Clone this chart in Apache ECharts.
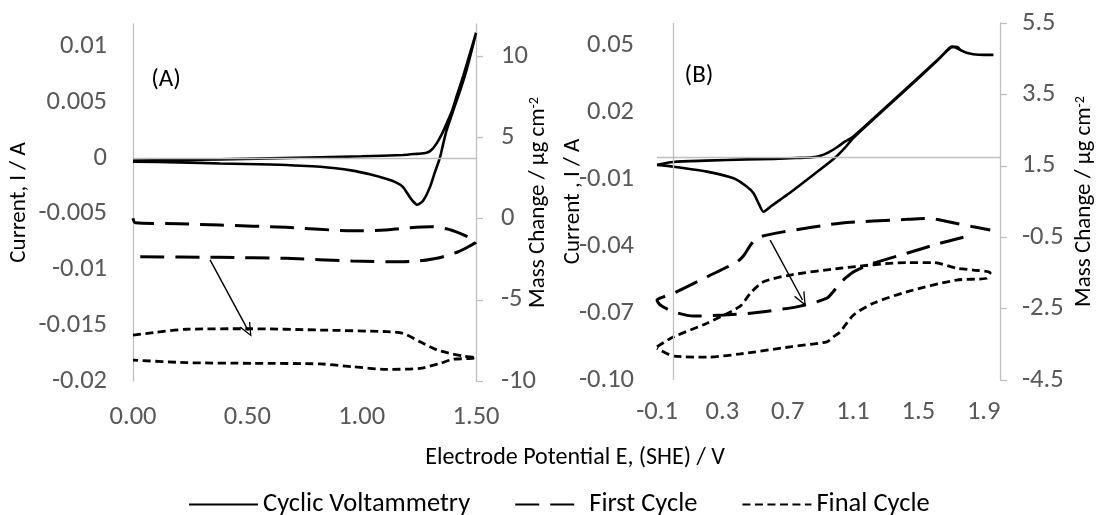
<!DOCTYPE html>
<html>
<head>
<meta charset="utf-8">
<script src="https://cdn.jsdelivr.net/npm/echarts@6/dist/echarts.min.js"></script>
<style>
  html, body { margin: 0; padding: 0; background: #fff; }
  #chart { width: 1097px; height: 515px; }
</style>
</head>
<body>
<div id="chart"></div>
<script>
// ---- panel (A): potential / V vs current / A and mass change / µg cm-2
const cvA = [
  [0.00, -0.00025], [0.38, -0.00013], [0.82, 0.00005], [1.00, 0.00014], [1.18, 0.00026],
  [1.24, 0.00036], [1.284, 0.00045], [1.305, 0.0007], [1.328, 0.0013], [1.35, 0.0021],
  [1.372, 0.0031], [1.395, 0.0042], [1.415, 0.0055], [1.445, 0.0074], [1.474, 0.0094], [1.50, 0.0112],
  [1.487, 0.0101], [1.459, 0.0079], [1.435, 0.0063], [1.408, 0.0047], [1.39, 0.0036], [1.372, 0.0025],
  [1.357, 0.0013], [1.342, 0.0000], [1.32, -0.0013], [1.299, -0.0026], [1.27, -0.0038], [1.243, -0.0042],
  [1.225, -0.0039], [1.21, -0.0035], [1.18, -0.0026], [1.15, -0.0022], [1.11, -0.0019], [1.04, -0.0015],
  [0.96, -0.00114], [0.82, -0.0008], [0.60, -0.0006], [0.38, -0.0005], [0.20, -0.0004], [0.00, -0.00034]
];
const firstA = [
  [0.00, 0.03], [0.01, -0.25], [0.20, -0.31], [0.38, -0.39], [0.67, -0.53], [0.96, -0.74], [1.10, -0.70],
  [1.18, -0.59], [1.30, -0.49], [1.37, -0.62], [1.43, -0.90], [1.47, -1.15], [1.50, -1.42],
  [1.47, -1.70], [1.42, -2.05], [1.34, -2.40], [1.25, -2.60], [1.18, -2.65], [0.96, -2.61],
  [0.67, -2.44], [0.38, -2.38], [0.00, -2.34]
];
const finalA = [
  [0.00, -7.17], [0.09, -7.02], [0.235, -6.81], [0.51, -6.78], [0.82, -6.86], [1.11, -6.96],
  [1.18, -7.06], [1.255, -7.58], [1.33, -8.09], [1.40, -8.34], [1.45, -8.48], [1.50, -8.58],
  [1.47, -8.62], [1.40, -8.66], [1.343, -8.91], [1.255, -9.22], [1.11, -9.28], [0.96, -9.12],
  [0.82, -8.95], [0.53, -8.91], [0.235, -8.87], [0.00, -8.71]
];
const arrowA = [[0.337, -2.54], [0.504, -6.9]];

// ---- panel (B)
const cvB = [
  [-0.10, -0.0035], [0.00, -0.0023], [0.20, -0.0017], [0.45, -0.0011], [0.613, -0.0009], [0.75, -0.0005],
  [0.85, -0.0002], [0.90, 0.0005], [0.95, 0.0020], [1.00, 0.0042], [1.05, 0.0068], [1.10, 0.0090],
  [1.225, 0.0172], [1.43, 0.0309], [1.633, 0.0446], [1.69, 0.0488], [1.705, 0.0494], [1.74, 0.0492],
  [1.76, 0.0478], [1.80, 0.0466], [1.87, 0.0458], [1.96, 0.0457],
  [1.87, 0.0458], [1.80, 0.0466], [1.76, 0.0478], [1.72, 0.0492], [1.70, 0.0490], [1.60, 0.0420],
  [1.43, 0.0305], [1.225, 0.0168], [1.10, 0.0083], [1.05, 0.0040], [0.99, -0.0004], [0.858, -0.0080],
  [0.716, -0.0160], [0.60, -0.0220], [0.552, -0.0246], [0.522, -0.0208], [0.491, -0.0163],
  [0.451, -0.0134], [0.369, -0.0096], [0.206, -0.0066], [0.002, -0.0044], [-0.10, -0.0036]
];
const firstB = [
  [1.776, -0.50], [1.633, -0.67], [1.429, -0.95], [1.225, -1.23], [1.103, -1.47], [1.06, -1.62],
  [1.021, -1.79], [0.98, -2.02], [0.94, -2.21], [0.777, -2.43], [0.512, -2.61], [0.308, -2.68],
  [0.124, -2.71], [0.002, -2.59], [-0.08, -2.40], [-0.10, -2.26], [-0.06, -2.17], [0.002, -2.07],
  [0.206, -1.61], [0.39, -1.19], [0.43, -1.02], [0.481, -0.67], [0.532, -0.49], [0.675, -0.35],
  [1.021, -0.11], [1.429, 0.00], [1.572, 0.03], [1.633, -0.02], [1.837, -0.21], [1.94, -0.30]
];
const finalB = [
  [-0.10, -3.57], [0.002, -3.29], [0.206, -2.91], [0.41, -2.43], [0.471, -2.07], [0.552, -1.75],
  [0.716, -1.56], [1.021, -1.37], [1.429, -1.21], [1.592, -1.21], [1.735, -1.37], [1.837, -1.42],
  [1.94, -1.49], [1.918, -1.65], [1.735, -1.70], [1.429, -2.03], [1.225, -2.35], [1.103, -2.68],
  [1.021, -3.15], [0.98, -3.29], [0.94, -3.43], [0.716, -3.57], [0.41, -3.77], [0.206, -3.86],
  [0.002, -3.83], [-0.10, -3.61]
];
const arrowB = [[0.593, -0.58], [0.791, -2.26]];

// ---- tick labels
const xTicksA = [0, 0.5, 1.0, 1.5];
const currentTicksA = [-0.02, -0.015, -0.01, -0.005, 0, 0.005, 0.01];
const massTicksA = [-10, -5, 0, 5, 10];
const xTicksB = [-0.1, 0.3, 0.7, 1.1, 1.5, 1.9];
const currentTicksB = [-0.10, -0.07, -0.04, -0.01, 0.02, 0.05];
const massTicksB = [-4.5, -2.5, -0.5, 1.5, 3.5, 5.5];

const FONT = 'Carlito, "Open Sans", sans-serif';
const AXIS_GRAY = '#bfbfbf';
const LABEL_GRAY = '#595959';

const labelStyle = (values, fmt, margin) => ({
  customValues: values,
  formatter: fmt,
  margin,
  fontSize: 26.5,
  fontFamily: FONT,
  color: LABEL_GRAY
});
const nameStyle = {
  fontSize: 23,
  fontFamily: FONT,
  color: '#000',
  rich: { sup: { fontSize: 14, fontFamily: FONT, color: '#000', verticalAlign: 'top', lineHeight: 15 } }
};

const cvLine = { color: '#000', width: 2.6, type: 'solid' };
const firstLine = { color: '#000', width: 3, type: [24, 11] };
const finalLine = { color: '#000', width: 2.8, type: [8, 4.5] };

// open arrowhead (tip at the top of the symbol box)
const OPEN_ARROW = 'path://M5,0 L10,10 L8.8,10 L5,2.4 L1.2,10 L0,10 Z';

const zeroLine = (data) => ({
  silent: true,
  symbol: 'none',
  label: { show: false },
  lineStyle: { color: AXIS_GRAY, width: 1.3, type: 'solid' },
  emphasis: { disabled: true },
  data
});
const arrowLine = (pts) => ({
  silent: true,
  symbol: ['none', OPEN_ARROW],
  symbolSize: [12, 14],
  itemStyle: { color: '#000' },
  label: { show: false },
  lineStyle: { color: '#000', width: 1.4, type: 'solid' },
  emphasis: { disabled: true },
  data: [[{ coord: pts[0] }, { coord: pts[1] }]]
});

const curve = (name, xi, yi, data, lineStyle, extra) => Object.assign({
  name, type: 'line', xAxisIndex: xi, yAxisIndex: yi, data,
  symbol: 'none', showSymbol: false, smooth: 0.25,
  lineStyle, itemStyle: { color: '#000' }
}, extra || {});

const axisName = (name, gap) => ({
  name, nameLocation: 'middle', nameRotate: 90, nameGap: gap,
  nameMoveOverlap: false, nameTextStyle: nameStyle
});

const chart = echarts.init(document.getElementById('chart'));
chart.setOption({
  animation: false,
  backgroundColor: '#fff',
  grid: [
    { left: 133, top: 24, width: 343, height: 357 },
    { left: 657, top: 23, width: 345, height: 357 }
  ],
  xAxis: [
    {
      gridIndex: 0, type: 'value', min: 0, max: 1.5,
      axisLine: { show: false }, axisTick: { show: false }, splitLine: { show: false },
      axisLabel: labelStyle(xTicksA, v => v.toFixed(2), 23)
    },
    {
      gridIndex: 1, type: 'value', min: -0.1, max: 2.0,
      axisLine: { show: false }, axisTick: { show: false }, splitLine: { show: false },
      axisLabel: labelStyle(xTicksB, v => v.toFixed(1), 19)
    }
  ],
  yAxis: [
    Object.assign({
      gridIndex: 0, type: 'value', position: 'left', min: -0.02, max: 0.012,
      axisLine: { show: true, onZero: false, lineStyle: { color: AXIS_GRAY, width: 1.3 } },
      axisTick: { show: false }, splitLine: { show: false },
      axisLabel: labelStyle(currentTicksA, v => String(+v.toFixed(3)), 26)
    }, axisName('Current, I / A', 102)),
    Object.assign({
      gridIndex: 0, type: 'value', position: 'right', min: -10, max: 12,
      axisLine: { show: true, onZero: false, lineStyle: { color: AXIS_GRAY, width: 1.3 } },
      axisTick: { show: true, customValues: massTicksA, length: 7, lineStyle: { color: AXIS_GRAY, width: 1.3 } },
      splitLine: { show: false },
      axisLabel: labelStyle(massTicksA, v => String(v), 25)
    }, axisName('Mass Change / µg cm{sup|-2}', 51)),
    Object.assign({
      gridIndex: 1, type: 'value', position: 'left', min: -0.10, max: 0.06,
      axisLine: { show: false }, axisTick: { show: false }, splitLine: { show: false },
      axisLabel: labelStyle(currentTicksB, v => v.toFixed(2), 23)
    }, axisName('Current , I / A', 72)),
    Object.assign({
      gridIndex: 1, type: 'value', position: 'right', min: -4.5, max: 5.5,
      axisLine: { show: true, onZero: false, lineStyle: { color: AXIS_GRAY, width: 1.3 } },
      axisTick: { show: true, customValues: massTicksB, length: 7, lineStyle: { color: AXIS_GRAY, width: 1.3 } },
      splitLine: { show: false },
      axisLabel: labelStyle(massTicksB, v => v.toFixed(1), 22)
    }, axisName('Mass Change / µg cm{sup|-2}', 73))
  ],
  legend: {
    data: ['Cyclic Voltammetry', 'First Cycle', 'Final Cycle'],
    left: 183, top: 486,
    itemWidth: 69, itemHeight: 14, itemGap: 44,
    selectedMode: false,
    itemStyle: { color: 'rgba(0,0,0,0)', borderWidth: 0, opacity: 0 },
    textStyle: { fontSize: 26.5, fontFamily: FONT, color: '#000' }
  },
  graphic: [
    { type: 'text', x: 166, y: 80, style: { text: '(A)', font: '25px ' + FONT, fill: '#000', textAlign: 'center', textVerticalAlign: 'middle' } },
    { type: 'text', x: 699, y: 76, style: { text: '(B)', font: '25px ' + FONT, fill: '#000', textAlign: 'center', textVerticalAlign: 'middle' } },
    { type: 'text', x: 575, y: 458, style: { text: 'Electrode Potential E, (SHE) / V', font: '24px ' + FONT, fill: '#000', textAlign: 'center', textVerticalAlign: 'middle' } }
  ],
  series: [
    curve('Cyclic Voltammetry', 0, 0, cvA, cvLine, { z: 3, markLine: zeroLine([{ yAxis: 0 }]) }),
    curve('First Cycle', 0, 1, firstA, firstLine, { markLine: arrowLine(arrowA) }),
    curve('Final Cycle', 0, 1, finalA, finalLine),
    curve('Cyclic Voltammetry', 1, 2, cvB, cvLine, { z: 3, markLine: zeroLine([{ yAxis: 0 }, { xAxis: 0 }]) }),
    curve('First Cycle', 1, 3, firstB, firstLine, { markLine: arrowLine(arrowB) }),
    curve('Final Cycle', 1, 3, finalB, finalLine)
  ]
});
</script>
</body>
</html>
